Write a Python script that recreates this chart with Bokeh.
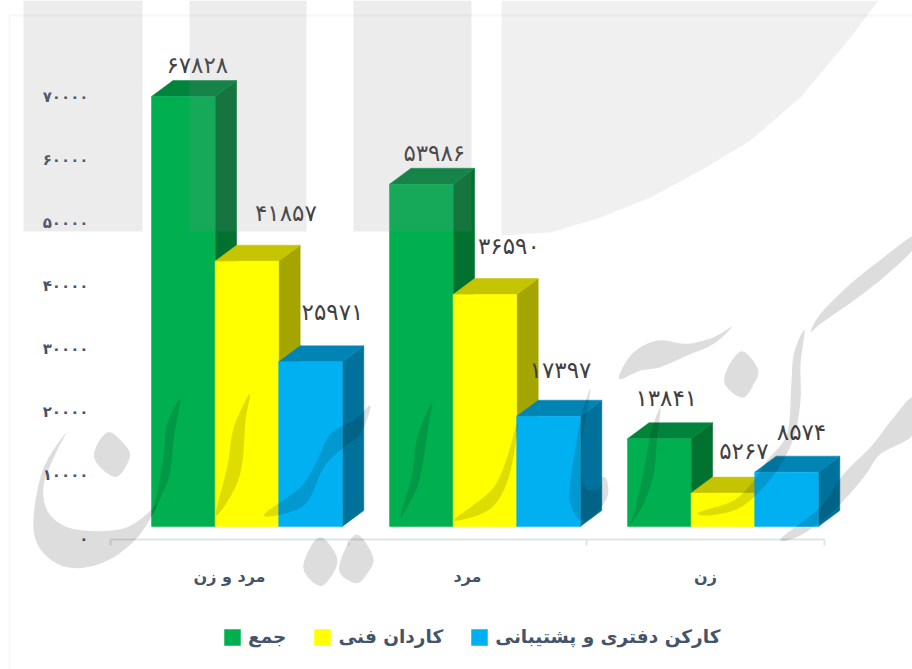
from bokeh.plotting import figure
from bokeh.embed import file_html
from bokeh.resources import INLINE
from bokeh.models import (ColumnDataSource, Range1d, LinearAxis, FixedTicker, Legend, LegendItem,
                          PolyAnnotation)
from bokeh.core.properties import value

categories = ["مرد و زن", "مرد", "زن"]
series_names = ["جمع", "کاردان فنی", "کارکن دفتری و پشتیبانی"]
total_values = [67828, 53986, 13841]
technician_values = [41857, 36590, 5267]
clerical_values = [25971, 17397, 8574]
y_ticks = [0, 10000, 20000, 30000, 40000, 50000, 60000, 70000]

FONT = "DejaVu Sans"
TEXT = "#44546a"
W, H = 912, 669
PX_CAT = 238.0             # px per category
X0 = 110.0                 # px of the start of the category axis
K_TICK = 442.0 / 70000     # px per unit of the axis
K_BAR = 430.0 / 67828      # px per unit of the bars
BASE = 526                 # bar base px
ZERO = 538                 # tick 0 px
AXIS_Y = 539


def fa(n):
    return str(n).translate(str.maketrans("0123456789", "۰۱۲۳۴۵۶۷۸۹"))


p = figure(width=W, height=H, output_backend="svg", toolbar_location=None,
           x_range=Range1d(-X0 / PX_CAT, (W - X0) / PX_CAT),
           y_range=Range1d((ZERO - H) / K_TICK, ZERO / K_TICK),
           x_axis_location=None, y_axis_location=None,
           min_border=0, background_fill_color="white", outline_line_color=None)
p.grid.visible = False
p.extra_y_ranges["bars"] = Range1d((BASE - H) / K_BAR, BASE / K_BAR)

# axes
yaxis = LinearAxis(ticker=FixedTicker(ticks=y_ticks), fixed_location=0,
                   major_label_overrides={t: fa(t) for t in y_ticks},
                   axis_line_color=None, major_tick_line_color=None, minor_tick_line_color=None,
                   major_label_standoff=16, major_label_text_font=FONT, major_label_text_font_size="15px",
                   major_label_text_font_style="bold", major_label_text_color=TEXT)
p.add_layout(yaxis, "left")
centers = [i + 0.5 for i in range(len(categories))]
xaxis = LinearAxis(ticker=FixedTicker(ticks=centers, minor_ticks=list(range(len(categories) + 1))),
                   fixed_location=(ZERO - AXIS_Y) / K_TICK,
                   major_label_overrides=dict(zip(centers, categories)),
                   bounds=(0, len(categories)),
                   axis_line_color="#dfe4ea", axis_line_width=2,
                   major_tick_line_color=None,
                   minor_tick_line_color="#dfe4ea", minor_tick_line_width=2,
                   minor_tick_out=6, minor_tick_in=0,
                   major_label_standoff=21, major_label_text_font=FONT, major_label_text_font_size="16px",
                   major_label_text_font_style="bold", major_label_text_color=TEXT)
p.add_layout(xaxis, "below")

# pseudo 3D bars
bar_w = 63.6 / PX_CAT
first = 41.0 / PX_CAT
dx = 21.5 / PX_CAT
dy = 16 / K_BAR
all_series = [total_values, technician_values, clerical_values]
fills = ["#00b050", "#ffff00", "#00b0f0"]
tops = ["#00843c", "#c4c400", "#0084b4"]
sides = ["#00712f", "#a5a500", "#00719a"]
items = []
for s, vals in enumerate(all_series):
    lefts = [i + first + s * bar_w for i in range(len(vals))]
    rights = [l + bar_w for l in lefts]
    side_x = [[r, r + dx, r + dx, r] for r in rights]
    side_y = [[0, dy, v + dy, v] for v in vals]
    top_x = [[l, l + dx, r + dx, r] for l, r in zip(lefts, rights)]
    top_y = [[v, v + dy, v + dy, v] for v in vals]
    p.patches(side_x, side_y, y_range_name="bars", fill_color=sides[s], line_color=sides[s], line_width=0.5)
    p.patches(top_x, top_y, y_range_name="bars", fill_color=tops[s], line_color=tops[s], line_width=0.5)
    r = p.vbar(x=[(a + b) / 2 for a, b in zip(lefts, rights)], width=bar_w, bottom=0, top=vals,
               y_range_name="bars", fill_color=fills[s], line_color=fills[s], line_width=0.5)
    items.append(LegendItem(label=value(series_names[s]), renderers=[r]))

# value labels (moved by hand in the original, hence the per label shift)
lx, ly, lt = [], [], []
for s, vals in enumerate(all_series):
    for i, v in enumerate(vals):
        lx.append(i + first + (s + 0.5) * bar_w)
        ly.append(v)
        lt.append(fa(v))
label_dx = [14, 13, 7, 39, 24, 21, 22, 12, 15]
label_dy = [-32, -31, -41, -48, -49, -42, -50, -46, -40]
src = ColumnDataSource(dict(x=lx, y=ly, t=lt, xo=label_dx, yo=label_dy))
p.text("x", "y", text="t", source=src, x_offset="xo", y_offset="yo", y_range_name="bars",
       text_font=value(FONT), text_font_size="23px", text_color="#404040",
       text_align="center", text_baseline="middle")

legend = Legend(items=items, orientation="horizontal", location=(222, 22),
                background_fill_alpha=0, border_line_color=None, padding=0, margin=0,
                glyph_width=20, glyph_height=20, label_standoff=6, spacing=26,
                label_text_font=FONT, label_text_font_size="18.5px", label_text_font_style="bold",
                label_text_color=TEXT)
p.add_layout(legend, "center")


# frame of the original slide and the watermark that lies over it
def smooth(pts, n=5):
    out = []
    m = len(pts)
    for i in range(m):
        p0, p1, p2, p3 = pts[i - 1], pts[i], pts[(i + 1) % m], pts[(i + 2) % m]
        for k in range(n):
            t = k / n
            out.append(tuple(
                0.5 * (2 * p1[c] + (p2[c] - p0[c]) * t + (2 * p0[c] - 5 * p1[c] + 4 * p2[c] - p3[c]) * t * t
                       + (3 * p1[c] - p0[c] - 3 * p2[c] + p3[c]) * t ** 3) for c in (0, 1)))
    return out


def poly(pts, color, alpha, level="overlay", **kw):
    p.add_layout(PolyAnnotation(xs=[a for a, _ in pts], ys=[b for _, b in pts],
                                xs_units="canvas", ys_units="canvas", fill_color=color, fill_alpha=alpha,
                                line_color=None, level=level, **kw))


p.add_layout(PolyAnnotation(xs=[9, 1000, 1000, 9], ys=[15, 15, 1000, 1000], xs_units="canvas", ys_units="canvas",
                            fill_alpha=0, line_color="#dde3ea", line_width=2, level="underlay"))

for x0, x1 in [(23, 142), (189, 306), (353, 471)]:
    poly([(x0, 0), (x1, 0), (x1, 231), (x0, 231)], "#888a8e", 0.16)
poly([(501, 0), (878, 0), (850, 37), (800, 97), (750, 140), (700, 170), (650, 197), (600, 217), (550, 232), (501, 235)],
     "#888a8e", 0.13)


def z2(pts):
    return smooth([(a / 3, 370 + b / 3) for a, b in pts])


def z5(pts):
    return smooth([(500 + a / 3, 220 + b / 3) for a, b in pts])


def z6(pts):
    return smooth([(380 + a / 3, 380 + b / 3) for a, b in pts])


DARK, DA = "#101010", 0.14
for shape in [
    [(198, 185), (130, 290), (100, 430), (110, 520), (170, 580), (250, 592), (340, 560), (420, 490), (470, 400),
     (440, 430), (380, 470), (300, 482), (200, 470), (140, 420), (130, 340), (165, 250)],
    [(280, 260), (320, 185), (370, 220), (388, 260), (345, 320)],
    [(540, 85), (500, 160), (490, 250), (470, 370), (452, 440), (490, 360), (510, 300), (520, 200)],
    [(748, 70), (700, 170), (680, 290), (645, 435), (700, 360), (725, 280), (735, 150)],
    [(1110, 105), (1060, 150), (990, 190), (950, 270), (900, 350), (790, 432), (850, 430), (920, 395), (970, 290),
     (1030, 230), (1080, 190)],
    [(908, 590), (955, 500), (1005, 550), (1005, 595), (960, 647)],
    [(1015, 595), (1065, 492), (1118, 560), (1100, 610), (1065, 638)],
]:
    poly(z2(shape), DARK, DA)
for shape in [
    [(695, 318), (640, 370), (560, 405), (480, 440), (420, 450), (355, 475), (395, 400), (470, 360), (560, 370), (640, 350)],
    [(720, 392), (772, 445), (760, 490), (725, 532), (670, 480)],
    [(912, 328), (880, 400), (872, 500), (860, 640), (800, 720), (760, 780), (700, 840), (595, 875), (620, 885),
     (700, 870), (760, 830), (830, 750), (880, 650), (900, 540), (900, 430)],
    [(1240, 45), (1150, 110), (1050, 190), (960, 280), (930, 335), (960, 310), (1060, 240), (1150, 170), (1240, 85)],
    [(1240, 530), (1180, 590), (1110, 680), (1030, 760), (960, 860), (840, 955), (900, 945), (1000, 870), (1090, 770),
     (1140, 700), (1240, 640)],
    [(480, 560), (450, 640), (430, 750), (400, 880), (390, 910), (430, 850), (460, 760), (470, 650)],
]:
    poly(z5(shape), DARK, DA)
for shape in [
    [(630, 25), (600, 120), (570, 300), (570, 370), (600, 420), (640, 405), (680, 350), (680, 300), (665, 290),
     (660, 320), (630, 330), (605, 300), (605, 180)],
    [(408, 130), (380, 230), (340, 320), (270, 380), (220, 420), (290, 405), (345, 370), (385, 290), (408, 170)],
    [(155, 65), (110, 170), (95, 280), (60, 410), (110, 320), (130, 230), (145, 130)],
]:
    poly(z6(shape), DARK, DA)

open("out.html", "w").write(file_html(p, INLINE))
